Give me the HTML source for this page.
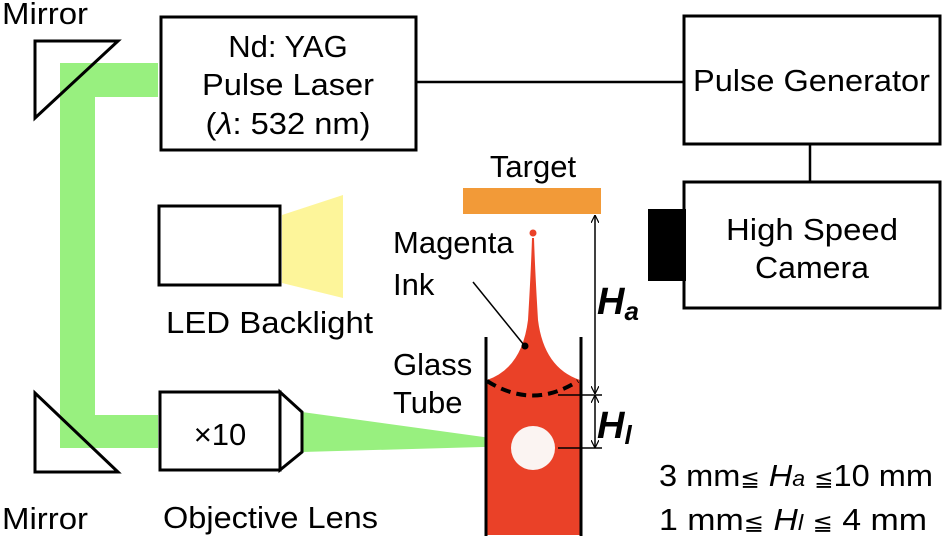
<!DOCTYPE html>
<html><head><meta charset="utf-8"><style>
html,body{margin:0;padding:0;background:#fff;}
svg{display:block;font-family:"Liberation Sans",Arial,sans-serif;}
</style></head><body>
<svg width="945" height="544" viewBox="0 0 945 544" xmlns="http://www.w3.org/2000/svg">
<defs>
<marker id="ar" viewBox="0 0 10 10" refX="10" refY="5" markerWidth="8" markerHeight="8" orient="auto-start-reverse" markerUnits="userSpaceOnUse">
<path d="M0,0 L10,5 L0,10" fill="none" stroke="#000" stroke-width="1.5"/>
</marker>
</defs>
<path d="M60,63 L158,63 L158,97 L95,97 L95,415 L158,415 L158,448 L60,448 Z" fill="#98f07f"/>
<polygon points="302,412 302,452 520,446 520,442" fill="#98f07f"/>
<polygon points="35,41 118,41 35,118" fill="none" stroke="#000" stroke-width="3"/>
<polygon points="35,393 35,472 118,472" fill="none" stroke="#000" stroke-width="3"/>
<text x="2" y="24" font-size="31" textLength="86" lengthAdjust="spacingAndGlyphs">Mirror</text>
<text x="2" y="529" font-size="31" textLength="86" lengthAdjust="spacingAndGlyphs">Mirror</text>
<rect x="161" y="17" width="255" height="133" fill="#fff" stroke="#000" stroke-width="3"/>
<text x="288" y="57" font-size="31" text-anchor="middle">Nd: YAG</text>
<text x="288" y="95" font-size="31" text-anchor="middle" textLength="172" lengthAdjust="spacingAndGlyphs">Pulse Laser</text>
<text x="288" y="134" font-size="31" text-anchor="middle" textLength="165" lengthAdjust="spacingAndGlyphs">(<tspan font-style="italic">λ</tspan>: 532 nm)</text>
<line x1="417" y1="82" x2="684" y2="82" stroke="#000" stroke-width="2.5"/>
<rect x="684" y="16" width="256" height="128" fill="#fff" stroke="#000" stroke-width="3"/>
<text x="693" y="91" font-size="31" textLength="237" lengthAdjust="spacingAndGlyphs">Pulse Generator</text>
<line x1="810" y1="144" x2="810" y2="182" stroke="#000" stroke-width="2.5"/>
<rect x="684" y="182" width="256" height="126" fill="#fff" stroke="#000" stroke-width="3"/>
<rect x="648" y="209" width="38" height="72" fill="#000"/>
<text x="812" y="240" font-size="31" text-anchor="middle" textLength="172" lengthAdjust="spacingAndGlyphs">High Speed</text>
<text x="812" y="278" font-size="31" text-anchor="middle" textLength="114" lengthAdjust="spacingAndGlyphs">Camera</text>
<rect x="159" y="206" width="121" height="79" fill="#fff" stroke="#000" stroke-width="3"/>
<polygon points="282,215 343,195 343,298 282,283" fill="#fdf59a"/>
<text x="166" y="333" font-size="31" textLength="207" lengthAdjust="spacingAndGlyphs">LED Backlight</text>
<rect x="160" y="392" width="120" height="78" fill="#fff" stroke="#000" stroke-width="3"/>
<polygon points="280,392 302,412 302,452 280,470" fill="#fff" stroke="#000" stroke-width="3"/>
<text x="220" y="445" font-size="31" text-anchor="middle">×10</text>
<text x="163" y="528" font-size="31" textLength="215" lengthAdjust="spacingAndGlyphs">Objective Lens</text>
<rect x="463" y="188" width="138" height="26" fill="#f29a38"/>
<text x="533" y="177" font-size="31" text-anchor="middle">Target</text>
<path d="M487,380 Q522,368 528,320 Q531,270 532,238 L534,238 Q535,270 538,320 Q544,368 580,380 L580,535 L487,535 Z" fill="#ea4128"/>
<circle cx="533" cy="233" r="3.5" fill="#ea4128"/>
<circle cx="533" cy="448" r="22" fill="#fbf4f2"/>
<path d="M487,381 Q533,410 578,381" fill="none" stroke="#000" stroke-width="4" stroke-dasharray="10,6"/>
<line x1="486" y1="337" x2="486" y2="536" stroke="#000" stroke-width="3"/>
<line x1="581" y1="337" x2="581" y2="536" stroke="#000" stroke-width="3"/>
<line x1="473" y1="282" x2="524" y2="345" stroke="#000" stroke-width="1.5"/>
<circle cx="525" cy="346" r="3.5" fill="#000"/>
<text x="393" y="253" font-size="31">Magenta</text>
<text x="393" y="295" font-size="31">Ink</text>
<text x="393" y="375" font-size="31">Glass</text>
<text x="393" y="413" font-size="31">Tube</text>
<line x1="595" y1="215" x2="595" y2="394" stroke="#000" stroke-width="1.5" marker-start="url(#ar)" marker-end="url(#ar)"/>
<line x1="595" y1="395" x2="595" y2="448" stroke="#000" stroke-width="1.5" marker-start="url(#ar)" marker-end="url(#ar)"/>
<line x1="558" y1="395" x2="602" y2="395" stroke="#000" stroke-width="1.5"/>
<line x1="558" y1="448" x2="602" y2="448" stroke="#000" stroke-width="1.5"/>
<text x="597" y="314" font-size="38" font-weight="bold" font-style="italic">H<tspan font-size="26" dy="6">a</tspan></text>
<text x="597" y="438" font-size="38" font-weight="bold" font-style="italic">H<tspan font-size="26" dy="6">l</tspan></text>
<text x="659" y="486" font-size="31" textLength="274" lengthAdjust="spacingAndGlyphs">3 mm<tspan font-size="22">≦</tspan> <tspan font-style="italic">H</tspan><tspan font-style="italic" font-size="22">a</tspan> <tspan font-size="22">≦</tspan>10 mm</text>
<text x="659" y="530" font-size="31" textLength="268" lengthAdjust="spacingAndGlyphs">1 mm<tspan font-size="22">≦</tspan> <tspan font-style="italic">H</tspan><tspan font-style="italic" font-size="22">l</tspan> <tspan font-size="22">≦</tspan>  4 mm</text>
</svg>
</body></html>
